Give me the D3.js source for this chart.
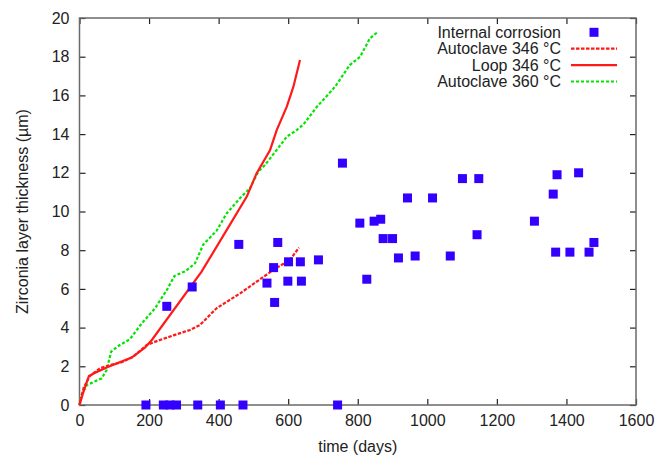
<!DOCTYPE html>
<html>
<head>
<meta charset="utf-8">
<script src="https://cdn.jsdelivr.net/npm/d3@7"></script>
<style>
  body { margin: 0; background: #fff; }
  text { font-family: "Liberation Sans", Arial, sans-serif; fill: #222; }
</style>
</head>
<body>
<div id="chart"></div>
<script>
// internal corrosion measurements (days, µm)
var corrosionDays = [191, 241, 260, 279, 340, 405, 470, 742,
  251, 324, 458, 570, 558, 539, 561, 601, 599, 635, 638, 687,
  756, 806, 847, 866, 873, 900, 917, 965, 943, 1015, 1066, 826,
  1101, 1148, 1143, 1308, 1373, 1435, 1362, 1479, 1369, 1410, 1465];
var corrosionThick = [0, 0, 0, 0, 0, 0, 0, 0,
  5.1, 6.1, 8.3, 8.4, 7.1, 6.3, 5.3, 7.4, 6.4, 7.4, 6.4, 7.5,
  12.5, 9.4, 9.5, 9.6, 8.6, 8.6, 7.6, 7.7, 10.7, 10.7, 7.7, 6.5,
  11.7, 11.7, 8.8, 9.5, 11.9, 12.0, 10.9, 8.4, 7.9, 7.9, 7.9];

// Autoclave 346 °C
var auto346Days = [0, 12, 30, 59, 88, 120, 155, 193, 222, 270, 318, 346, 394, 462, 509, 557, 605, 631];
var auto346Thick = [0, 0.9, 1.5, 1.9, 2.07, 2.2, 2.5, 3.1, 3.3, 3.6, 3.88, 4.13, 5.0, 5.77, 6.37, 6.98, 7.5, 8.13];

// Loop 346 °C
var loop346Days = [0, 10, 27, 45, 83, 150, 188, 208, 351, 423, 481, 509, 548, 567, 596, 615, 634];
var loop346Thick = [0, 0.6, 1.5, 1.67, 1.98, 2.45, 2.96, 3.36, 6.89, 9.04, 10.77, 11.97, 13.18, 14.21, 15.42, 16.45, 17.83];

// Autoclave 360 °C
var auto360Days = [0, 5, 21, 64, 78, 91, 116, 145, 179, 217, 251, 273, 305, 332, 356, 394, 423, 461, 490, 514, 533, 572, 596, 624, 644, 682, 735, 777, 807, 835, 859];
var auto360Thick = [0, 0.5, 1.03, 1.38, 1.81, 2.76, 3.1, 3.4, 4.22, 5.0, 5.94, 6.67, 6.92, 7.32, 8.3, 9.0, 9.9, 10.68, 11.2, 12.06, 12.4, 13.3, 13.87, 14.2, 14.5, 15.4, 16.45, 17.57, 18.0, 18.95, 19.3];

var xTicks = [0, 200, 400, 600, 800, 1000, 1200, 1400, 1600];
var yTicks = [0, 2, 4, 6, 8, 10, 12, 14, 16, 18, 20];

var W = 657, H = 455;
var mLeft = 79.5, mRight = 636, mTop = 18, mBottom = 405;
var fontSize = "16px";

var svg = d3.select("#chart").append("svg").attr("width", W).attr("height", H);

var x = d3.scaleLinear().domain([0, 1600]).range([mLeft, mRight]);
var y = d3.scaleLinear().domain([0, 20]).range([mBottom, mTop]);

function zip(a, b) { return a.map(function(d, i) { return [d, b[i]]; }); }

// axes (ticks pointing inward, mirrored on top/right)
var gx = svg.append("g").attr("transform", "translate(0," + mBottom + ")")
  .call(d3.axisBottom(x).tickValues(xTicks).tickFormat(d3.format("d")).tickSizeInner(-6).tickSizeOuter(0).tickPadding(10));
var gy = svg.append("g").attr("transform", "translate(" + mLeft + ",0)")
  .call(d3.axisLeft(y).tickValues(yTicks).tickFormat(d3.format("d")).tickSizeInner(-6).tickSizeOuter(0).tickPadding(10));
var gt = svg.append("g").attr("transform", "translate(0," + mTop + ")")
  .call(d3.axisTop(x).tickValues(xTicks).tickSizeInner(-6).tickSizeOuter(0).tickFormat(""));
var gr = svg.append("g").attr("transform", "translate(" + mRight + ",0)")
  .call(d3.axisRight(y).tickValues(yTicks).tickSizeInner(-6).tickSizeOuter(0).tickFormat(""));

[gx, gy, gt, gr].forEach(function(g) {
  g.attr("font-size", null).attr("font-family", null);
  g.select(".domain").remove();
  g.selectAll(".tick line").attr("stroke", "#222").attr("stroke-width", 1.2);
  g.selectAll(".tick text").style("font-size", fontSize).attr("fill", "#222");
});

svg.append("rect").attr("x", mLeft).attr("y", mTop)
  .attr("width", mRight - mLeft).attr("height", mBottom - mTop)
  .attr("fill", "none").attr("stroke", "#6a6a6a").attr("stroke-width", 1.5);

// axis titles
svg.append("text").attr("x", (mLeft + mRight) / 2).attr("y", 452)
  .attr("text-anchor", "middle").style("font-size", fontSize).text("time (days)");
svg.append("text").attr("transform", "translate(22," + ((mTop + mBottom) / 2) + ") rotate(-90)")
  .attr("text-anchor", "middle").attr("dy", "0.35em").style("font-size", fontSize)
  .text("Zirconia layer thickness (µm)");

var line = d3.line().x(function(d) { return x(d[0]); }).y(function(d) { return y(d[1]); });

var plot = svg.append("g");

plot.append("path").datum(zip(auto360Days, auto360Thick))
  .attr("d", line).attr("fill", "none").attr("stroke", "#00e600")
  .attr("stroke-width", 2.2).attr("stroke-dasharray", "3,2");

plot.append("path").datum(zip(auto346Days, auto346Thick))
  .attr("d", line).attr("fill", "none").attr("stroke", "#ff1a1a")
  .attr("stroke-width", 2.2).attr("stroke-dasharray", "3.5,1.5");

plot.append("path").datum(zip(loop346Days, loop346Thick))
  .attr("d", line).attr("fill", "none").attr("stroke", "#ff1a1a")
  .attr("stroke-width", 2.2);

var sq = 9;
plot.selectAll(".pt").data(zip(corrosionDays, corrosionThick)).enter().append("rect")
  .attr("class", "pt")
  .attr("x", function(d) { return x(d[0]) - sq / 2; })
  .attr("y", function(d) { return y(d[1]) - sq / 2; })
  .attr("width", sq).attr("height", sq)
  .attr("fill", "#3300ff");

// legend
var legendItems = [
  { label: "Internal corrosion", type: "square" },
  { label: "Autoclave 346 °C", type: "line", color: "#ff1a1a", dash: "3.5,1.5" },
  { label: "Loop 346 °C", type: "line", color: "#ff1a1a", dash: null },
  { label: "Autoclave 360 °C", type: "line", color: "#00e600", dash: "3,2" }
];
var legend = svg.append("g");
legendItems.forEach(function(it, i) {
  var ly = 32.3 + i * 16.4;
  legend.append("text").attr("x", 561).attr("y", ly).attr("dy", "0.35em")
    .attr("text-anchor", "end").style("font-size", fontSize).text(it.label);
  if (it.type === "square") {
    legend.append("rect").attr("x", 594 - sq / 2).attr("y", ly - sq / 2)
      .attr("width", sq).attr("height", sq).attr("fill", "#3300ff");
  } else {
    legend.append("line").attr("x1", 571).attr("x2", 617).attr("y1", ly).attr("y2", ly)
      .attr("stroke", it.color).attr("stroke-width", 2.2)
      .attr("stroke-dasharray", it.dash);
  }
});
</script>
</body>
</html>
